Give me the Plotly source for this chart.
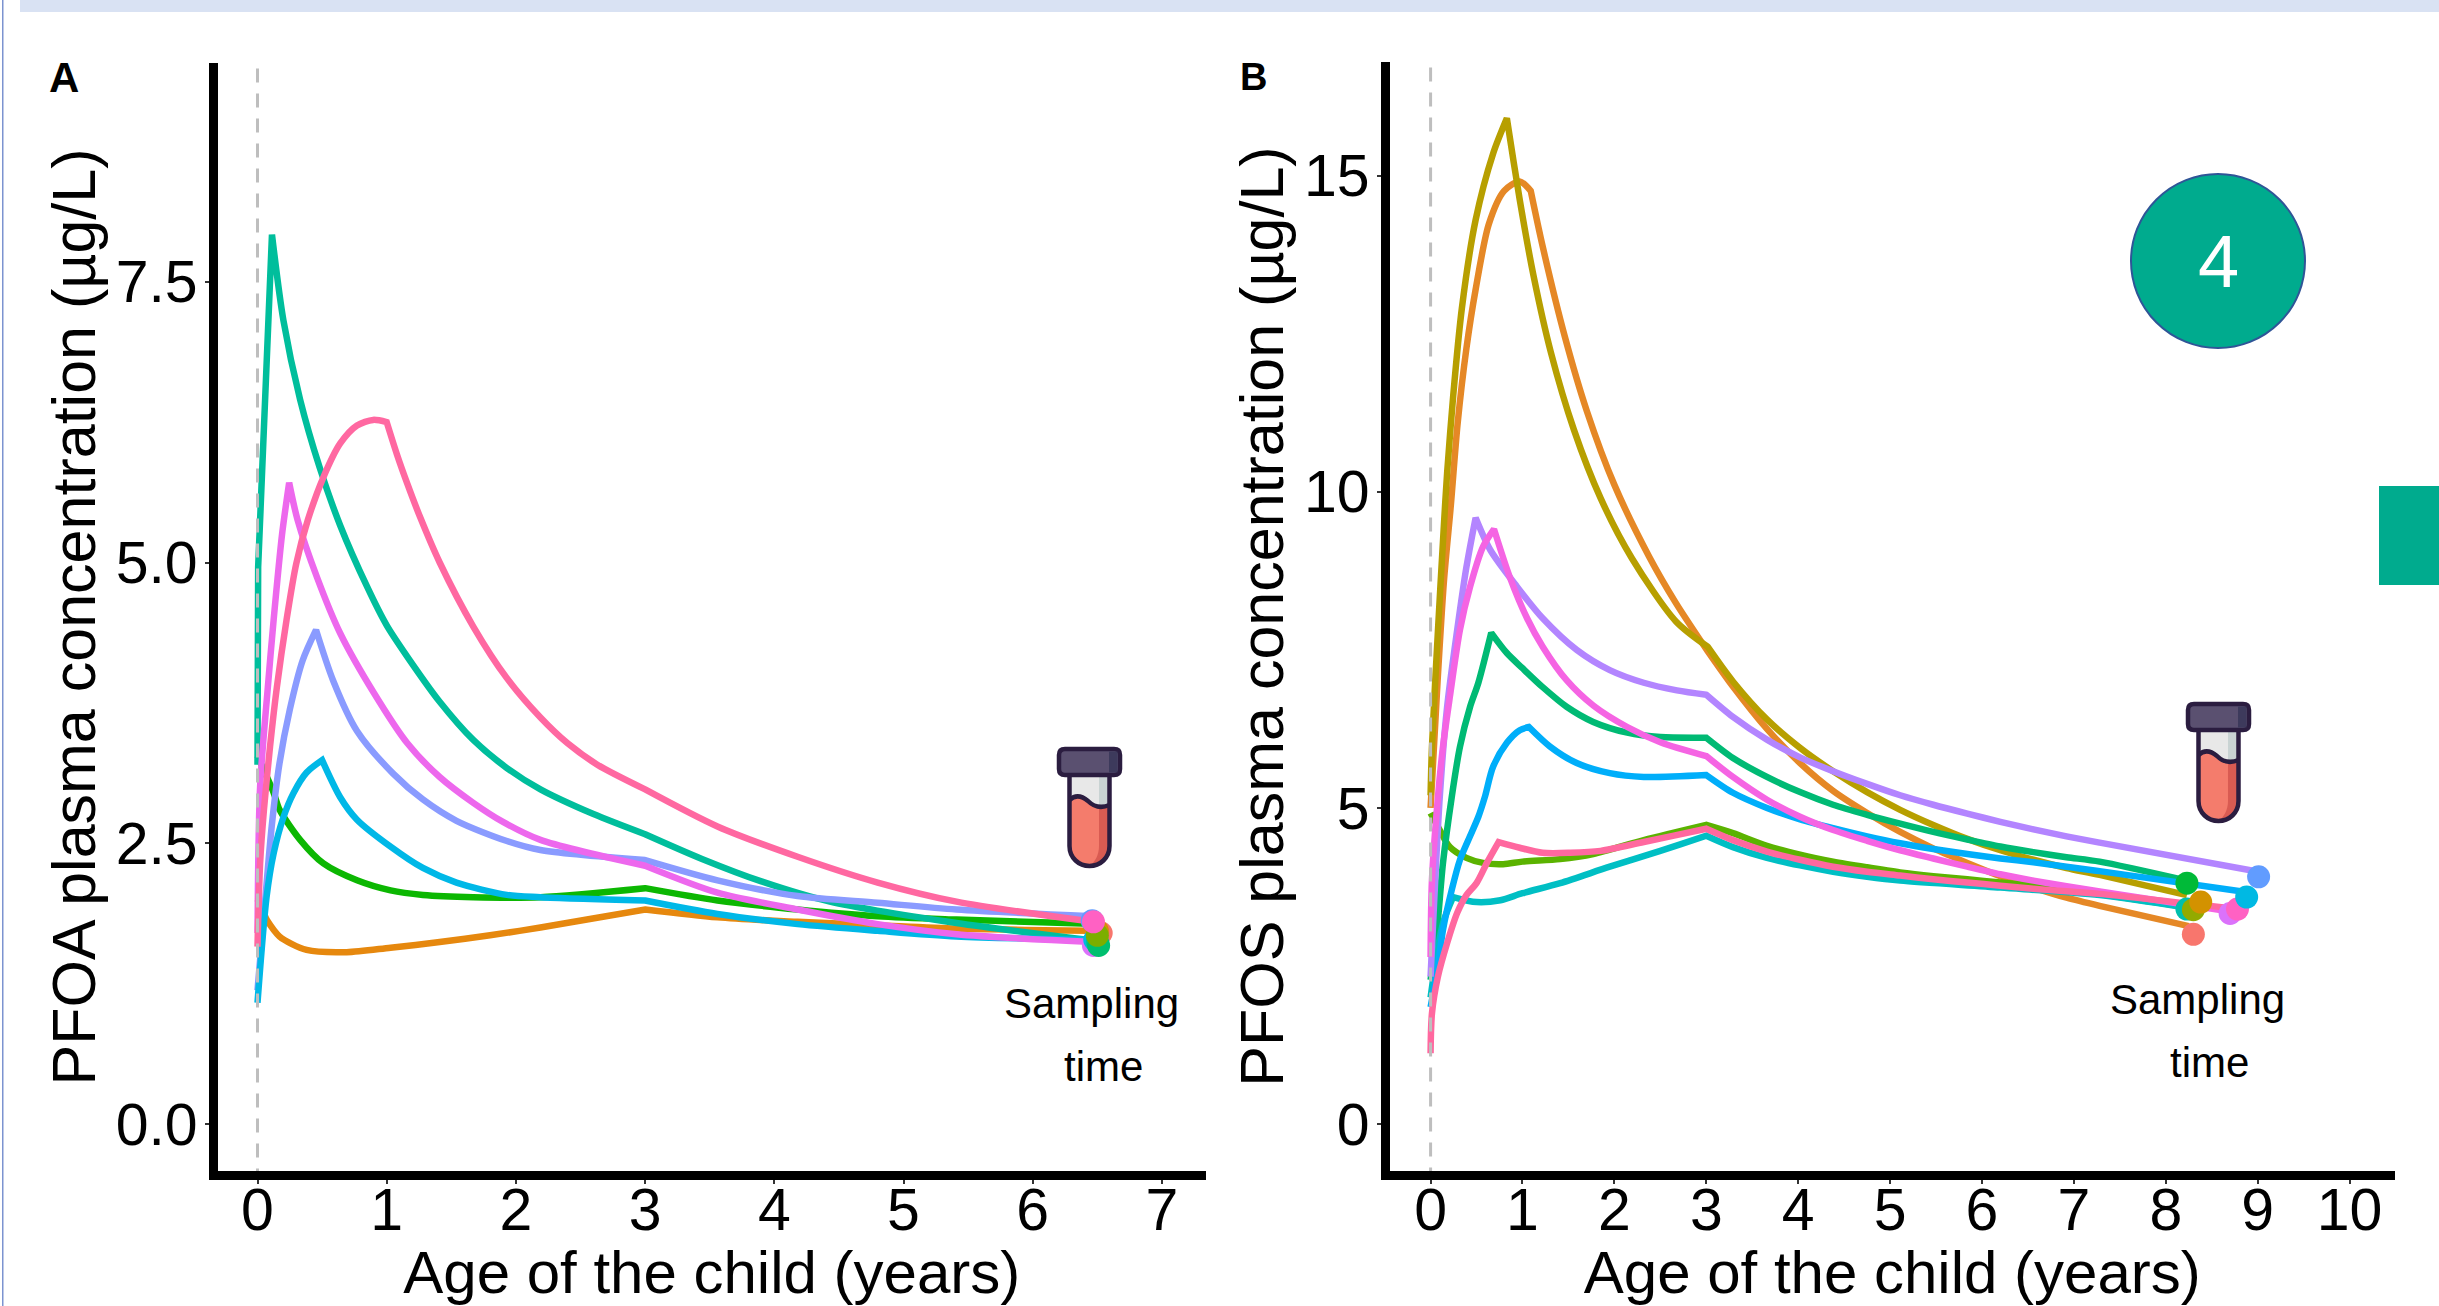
import plotly.graph_objects as go

W, H = 2439, 1306
FONT = "Liberation Sans"

# ---------- Panel A (PFOA) ----------
a_orange_x = [0, 0.07, 0.17, 0.38, 0.69, 1.03, 1.41, 1.8, 2.19, 3.0, 3.56, 4.18, 4.8, 5.41, 6.53]
a_orange_y = [2.0, 1.82, 1.67, 1.55, 1.53, 1.57, 1.62, 1.68, 1.75, 1.91, 1.84, 1.80, 1.77, 1.74, 1.72]
a_green_x = [0, 0.125, 0.17, 0.33, 0.51, 0.77, 1.03, 1.28, 1.67, 2.19, 3.0, 3.56, 4.18, 4.8, 5.41, 6.51]
a_green_y = [3.28, 2.95, 2.8, 2.53, 2.32, 2.17, 2.08, 2.04, 2.02, 2.02, 2.10, 1.99, 1.91, 1.85, 1.82, 1.78]
a_teal_x = [0, 0.005, 0.112, 0.2, 0.33, 0.48, 0.64, 0.85, 1.0, 1.16, 1.41, 1.67, 1.93, 2.19, 2.6, 3.0, 3.44, 3.9, 4.43, 5.41, 6.5]
a_teal_y = [3.2, 4.96, 7.92, 7.16, 6.45, 5.85, 5.33, 4.78, 4.44, 4.16, 3.76, 3.42, 3.17, 2.98, 2.76, 2.58, 2.36, 2.16, 1.98, 1.79, 1.63]
a_cyan_x = [0, 0.07, 0.125, 0.2, 0.28, 0.38, 0.5, 0.64, 0.77, 1.03, 1.28, 1.54, 1.93, 2.19, 3.0, 3.56, 4.18, 4.8, 5.41, 6.48]
a_cyan_y = [1.08, 2.02, 2.41, 2.73, 2.95, 3.13, 3.24, 2.91, 2.71, 2.47, 2.28, 2.15, 2.04, 2.02, 1.99, 1.87, 1.78, 1.72, 1.67, 1.64]
a_peri_x = [0, 0.06, 0.11, 0.17, 0.25, 0.35, 0.453, 0.585, 0.77, 1.05, 1.28, 1.54, 1.93, 2.19, 3.0, 3.56, 4.18, 4.8, 5.41, 6.46]
a_peri_y = [1.19, 2.0, 2.65, 3.21, 3.69, 4.13, 4.4, 3.95, 3.5, 3.12, 2.89, 2.7, 2.52, 2.44, 2.35, 2.17, 2.03, 1.97, 1.91, 1.85]
a_mag_x = [0, 0.02, 0.08, 0.125, 0.19, 0.245, 0.31, 0.46, 0.64, 0.9, 1.16, 1.41, 1.67, 1.9, 2.19, 3.0, 3.56, 4.18, 4.8, 5.41, 6.47]
a_mag_y = [1.7, 3.0, 3.89, 4.49, 5.25, 5.71, 5.38, 4.87, 4.37, 3.84, 3.39, 3.09, 2.86, 2.69, 2.53, 2.30, 2.06, 1.91, 1.78, 1.69, 1.62]
a_pink_x = [0, 0.02, 0.05, 0.097, 0.15, 0.225, 0.3, 0.39, 0.51, 0.64, 0.77, 0.895, 1.0, 1.08, 1.16, 1.26, 1.41, 1.67, 1.93, 2.19, 2.4, 2.63, 3.0, 3.56, 4.18, 4.8, 5.41, 6.47]
a_pink_y = [1.58, 2.32, 2.8, 3.36, 3.89, 4.49, 4.99, 5.38, 5.76, 6.06, 6.22, 6.27, 6.25, 5.96, 5.70, 5.40, 5.0, 4.43, 3.97, 3.62, 3.39, 3.2, 2.98, 2.65, 2.38, 2.15, 1.98, 1.80]
a_point_x = [6.47, 6.53, 6.48, 6.5, 6.5, 6.46, 6.51, 6.5, 6.47]
a_point_y = [1.59, 1.70, 1.64, 1.62, 1.72, 1.81, 1.59, 1.68, 1.80]

# ---------- Panel B (PFOS) ----------
b_orange_x = [0, 0.076, 0.146, 0.22, 0.295, 0.39, 0.49, 0.635, 0.8, 0.97, 1.09, 1.22, 1.46, 1.7, 2.0, 2.38, 2.67, 3.015, 3.29, 3.66, 4.02, 4.38, 4.75, 5.11, 5.47, 5.84, 6.2, 6.56, 6.92, 7.28, 8.25]
b_orange_y = [5.0, 7.0, 8.6, 9.78, 11.09, 12.27, 13.2, 14.24, 14.76, 14.91, 14.76, 13.88, 12.46, 11.28, 10.11, 8.97, 8.24, 7.48, 6.92, 6.25, 5.71, 5.27, 4.92, 4.62, 4.36, 4.13, 3.92, 3.74, 3.58, 3.45, 3.13]
b_gold_x = [0, 0.015, 0.08, 0.146, 0.18, 0.245, 0.34, 0.49, 0.68, 0.83, 0.97, 1.12, 1.31, 1.56, 1.85, 2.19, 2.67, 3.015, 3.29, 3.66, 4.02, 4.38, 4.75, 5.11, 5.47, 5.84, 6.2, 6.56, 6.92, 7.28, 8.23]
b_gold_y = [5.2, 5.97, 7.8, 9.5, 10.3, 11.5, 12.9, 14.3, 15.35, 15.91, 14.62, 13.42, 12.2, 10.98, 9.9, 8.95, 7.95, 7.55, 7.0, 6.4, 5.95, 5.58, 5.25, 4.97, 4.73, 4.51, 4.33, 4.18, 4.05, 3.94, 3.62]
b_lime_x = [0, 0.1, 0.21, 0.39, 0.57, 0.79, 1.0, 1.41, 1.77, 2.32, 3.0, 3.29, 3.66, 4.02, 4.38, 4.75, 5.11, 5.47, 5.84, 6.2, 6.56, 6.92, 8.3]
b_lime_y = [4.92, 4.65, 4.38, 4.21, 4.13, 4.11, 4.15, 4.19, 4.27, 4.49, 4.73, 4.6, 4.4, 4.26, 4.15, 4.06, 3.98, 3.92, 3.87, 3.82, 3.77, 3.71, 3.42]
b_green_x = [0, 0.07, 0.135, 0.23, 0.32, 0.43, 0.52, 0.66, 0.83, 1.0, 1.22, 1.48, 1.77, 2.14, 2.5, 3.0, 3.29, 3.66, 4.02, 4.38, 4.75, 5.11, 5.47, 5.84, 6.2, 6.56, 6.92, 7.28, 8.23]
b_green_y = [2.28, 3.07, 4.13, 5.17, 5.97, 6.6, 6.98, 7.77, 7.45, 7.21, 6.91, 6.6, 6.36, 6.19, 6.12, 6.11, 5.79, 5.49, 5.25, 5.05, 4.89, 4.75, 4.62, 4.5, 4.39, 4.3, 4.22, 4.15, 3.85]
b_teal_x = [0, 0.07, 0.14, 0.245, 0.5, 0.76, 1.0, 1.41, 1.95, 2.5, 3.0, 3.29, 3.66, 4.02, 4.38, 4.75, 5.11, 6.2, 7.28, 8.23]
b_teal_y = [2.0, 2.7, 3.2, 3.59, 3.51, 3.54, 3.65, 3.81, 4.07, 4.32, 4.56, 4.38, 4.21, 4.09, 3.99, 3.91, 3.85, 3.74, 3.62, 3.42]
b_azure_x = [0, 0.07, 0.135, 0.23, 0.32, 0.41, 0.52, 0.59, 0.68, 0.83, 0.97, 1.07, 1.3, 1.59, 1.95, 2.32, 3.0, 3.29, 3.66, 4.02, 4.38, 4.75, 5.11, 5.47, 5.84, 6.2, 6.56, 6.92, 7.28, 8.87]
b_azure_y = [1.85, 2.39, 3.07, 3.7, 4.18, 4.49, 4.86, 5.17, 5.65, 6.03, 6.23, 6.28, 5.97, 5.71, 5.55, 5.49, 5.52, 5.24, 5.0, 4.82, 4.68, 4.55, 4.44, 4.35, 4.27, 4.2, 4.14, 4.07, 4.0, 3.67]
b_purple_x = [0, 0.1, 0.18, 0.29, 0.39, 0.49, 0.65, 0.94, 1.22, 1.59, 1.95, 2.32, 2.68, 3.0, 3.29, 3.66, 4.02, 4.38, 4.75, 5.11, 5.47, 5.84, 6.2, 6.56, 6.92, 7.28, 9.01]
b_purple_y = [2.33, 5.17, 6.6, 7.82, 8.81, 9.59, 9.08, 8.5, 8.0, 7.5, 7.18, 6.98, 6.86, 6.79, 6.44, 6.08, 5.8, 5.58, 5.38, 5.2, 5.05, 4.91, 4.78, 4.66, 4.55, 4.45, 3.99]
b_mag_x = [0, 0.015, 0.08, 0.135, 0.21, 0.32, 0.43, 0.57, 0.69, 0.86, 1.05, 1.22, 1.48, 1.77, 2.14, 2.5, 3.0, 3.29, 3.66, 4.02, 4.38, 4.75, 5.11, 5.47, 5.84, 6.2, 6.56, 6.92, 7.28, 8.7]
b_mag_y = [2.64, 3.86, 5.17, 5.97, 6.76, 7.82, 8.5, 9.13, 9.41, 8.66, 8.0, 7.55, 7.02, 6.62, 6.28, 6.04, 5.82, 5.49, 5.13, 4.86, 4.65, 4.48, 4.33, 4.2, 4.07, 3.95, 3.85, 3.76, 3.68, 3.36]
b_pink_x = [0, 0.015, 0.08, 0.18, 0.29, 0.39, 0.5, 0.62, 0.74, 0.97, 1.22, 1.52, 1.85, 2.32, 3.0, 3.29, 3.66, 4.02, 4.38, 4.75, 5.11, 5.47, 5.84, 6.2, 6.56, 6.92, 7.28, 8.78]
b_pink_y = [1.12, 1.75, 2.33, 2.86, 3.34, 3.62, 3.81, 4.15, 4.46, 4.37, 4.29, 4.29, 4.32, 4.46, 4.67, 4.49, 4.31, 4.18, 4.07, 3.99, 3.93, 3.87, 3.82, 3.77, 3.72, 3.68, 3.64, 3.4]
b_point_x = [8.7, 8.78, 8.3, 8.23, 8.3, 8.38, 8.23, 9.01, 8.88]
b_point_y = [3.33, 3.4, 3.0, 3.4, 3.39, 3.51, 3.81, 3.91, 3.59]

# (x, y, colour, ages at which the curve has a sharp corner)
a_lines = [(a_orange_x, a_orange_y, "#E6880E", [0.07, 3.0]), (a_green_x, a_green_y, "#0CB702", [3.0]),
           (a_teal_x, a_teal_y, "#00BE9C", [0.005, 0.112, 3.0]), (a_peri_x, a_peri_y, "#8A9BFF", [0.453, 3.0]),
           (a_cyan_x, a_cyan_y, "#00B8E7", [0.5, 3.0]), (a_mag_x, a_mag_y, "#ED68ED", [0.245, 3.0]),
           (a_pink_x, a_pink_y, "#FF68A1", [1.0, 3.0])]
a_point_colors = ["#DB72FB", "#F8766D", "#00B9E3", "#00C19F", "#D39200", "#619CFF", "#00BF6F", "#7CAE00", "#FF61C3"]
b_lines = [(b_orange_x, b_orange_y, "#E58826", [1.09, 3.015]), (b_gold_x, b_gold_y, "#B79F00", [0.83, 3.015]),
           (b_lime_x, b_lime_y, "#5BB300", [3.0]), (b_green_x, b_green_y, "#00BA74", [0.66, 3.0]),
           (b_teal_x, b_teal_y, "#00BFC4", [0.245, 3.0]), (b_azure_x, b_azure_y, "#00AEFA", [1.07, 3.0]),
           (b_purple_x, b_purple_y, "#B385FF", [0.49, 3.0]), (b_mag_x, b_mag_y, "#F564E3", [0.69, 3.0]),
           (b_pink_x, b_pink_y, "#FF689F", [0.74, 3.0])]
b_point_colors = ["#DB72FB", "#FF61C3", "#F8766D", "#00BFAE", "#93AA00", "#D39200", "#00BA38", "#619CFF", "#00B9E3"]

LW = 6.5


def with_corners(xs, ys, corners):
    # A repeated vertex makes the library's spline turn sharply there.
    ox, oy = [], []
    for a, b in zip(xs, ys):
        ox.append(a); oy.append(b)
        if a in corners:
            ox.append(a); oy.append(b)
    return ox, oy


fig = go.Figure()


def draw(lines, pxs, pys, cols, xaxis, yaxis):
    for xs, ys, c, corners in lines:
        ox, oy = with_corners(xs, ys, corners)
        fig.add_trace(go.Scatter(x=ox, y=oy, mode="lines", xaxis=xaxis, yaxis=yaxis, showlegend=False,
                                 line=dict(color=c, width=LW, shape="spline", smoothing=0.8, simplify=False)))
    for px, py, c in zip(pxs, pys, cols):
        fig.add_trace(go.Scatter(x=[px], y=[py], mode="markers", marker=dict(color=c, size=23),
                                 xaxis=xaxis, yaxis=yaxis, showlegend=False))


draw(a_lines, a_point_x, a_point_y, a_point_colors, "x", "y")
draw(b_lines, b_point_x, b_point_y, b_point_colors, "x2", "y2")


def fx(v):
    return v / W


def fy(v):
    return 1 - v / H


def axis(dom, rng, vals, text, title, standoff, tsize, label_shift):
    return dict(domain=dom, range=rng, tickmode="array", tickvals=vals, ticktext=text, automargin=False,
                showgrid=False, zeroline=False, showline=True, linecolor="#000000", linewidth=9,
                ticks="outside", ticklen=4, tickwidth=2, tickcolor="#333333", ticklabelstandoff=label_shift,
                tickfont=dict(family=FONT, size=59, color="#000000"),
                title=dict(text=title, standoff=standoff, font=dict(family=FONT, size=tsize, color="#000000")))


xa = axis([fx(217.5), fx(1206)], [-0.3096, 7.341], list(range(8)), [str(i) for i in range(8)],
          "Age of the child (years)", 27, 60, -25)
ya = axis([fy(1171), fy(63)], [-0.4185, 9.448], [0, 2.5, 5, 7.5], ["0.0", "2.5", "5.0", "7.5"],
          "PFOA plasma concentration (µg/L)", 4, 61, -5)
xb = axis([fx(1389.5), fx(2395)], [-0.447, 10.494], list(range(11)), [str(i) for i in range(11)],
          "Age of the child (years)", 27, 60, -25)
yb = axis([fy(1171), fy(62)], [-0.744, 16.80], [0, 5, 10, 15], ["0", "5", "10", "15"],
          "PFOS plasma concentration (µg/L)", 4, 61, -5)
xa["anchor"] = "y"; ya["anchor"] = "x"; xb["anchor"] = "y2"; yb["anchor"] = "x2"

shapes = []
shapes.append(dict(type="line", xref="x", yref="y domain", x0=0, x1=0, y0=0.995, y1=0,
                   line=dict(color="#BEBEBE", width=3, dash="14px,11px")))
shapes.append(dict(type="line", xref="x2", yref="y2 domain", x0=0, x1=0, y0=0.995, y1=0,
                   line=dict(color="#BEBEBE", width=3, dash="14px,11px")))


def rect(x0, y0, x1, y1, fill, line=None, lw=0):
    shapes.append(dict(type="rect", xref="paper", yref="paper", x0=fx(x0), x1=fx(x1), y0=fy(y0), y1=fy(y1),
                       fillcolor=fill, line=dict(color=line or fill, width=lw), layer="above"))


def path(cmds, fill=None, line=None, lw=0):
    parts = []
    for c in cmds:
        letter, nums = c[0], c[1:]
        out = []
        for i in range(0, len(nums), 2):
            out.append(f"{fx(nums[i]):.6f},{fy(nums[i+1]):.6f}")
        parts.append(letter + " ".join(out))
    s = " ".join(parts)
    d = dict(type="path", xref="paper", yref="paper", path=s, layer="above",
             line=dict(color=line or "rgba(0,0,0,0)", width=lw))
    if fill:
        d["fillcolor"] = fill
    shapes.append(d)


# page furniture
rect(20, 0, W, 12, "#D9E2F3")
rect(2, 0, 3.5, H, "#7C93D0")
rect(2379, 486, W, 585, "#00AB8E")
shapes.append(dict(type="circle", xref="paper", yref="paper", x0=fx(2131), x1=fx(2305), y0=fy(348), y1=fy(174),
                   fillcolor="#00AB8E", line=dict(color="#2F5597", width=2)))


def tube(dx, dy):
    X = lambda v: v + dx
    Y = lambda v: v + dy
    L, R, M = X(1069.5), X(1109.5), X(1089.5)
    rect(L, Y(772), R, Y(812), "#E8E8E8")
    rect(X(1099), Y(772), R, Y(812), "#C9D3D3")
    bottom = [("C", R, Y(858), X(1100), Y(866), M, Y(866))]
    path([("M", L, Y(800)), ("C", X(1076), Y(794), X(1082), Y(796), X(1088), Y(801)),
          ("C", X(1093), Y(806), X(1100), Y(809), R, Y(805)), ("L", R, Y(846))] + bottom +
         [("C", X(1079), Y(866), L, Y(858), L, Y(846)), ("Z",)], fill="#F47C6C")
    path([("M", X(1099), Y(808)), ("L", R, Y(805)), ("L", R, Y(846))] + bottom +
         [("C", X(1095), Y(862), X(1099), Y(855), X(1099), Y(846)), ("Z",)], fill="#D95B52")
    path([("M", L, Y(800)), ("C", X(1076), Y(794), X(1082), Y(796), X(1088), Y(801)),
          ("C", X(1093), Y(806), X(1100), Y(809), R, Y(805))], line="#2B1D40", lw=4.5)
    path([("M", L, Y(775)), ("L", L, Y(846)), ("C", L, Y(858), X(1079), Y(866), M, Y(866)),
          ("C", X(1100), Y(866), R, Y(858), R, Y(846)), ("L", R, Y(775))], line="#2B1D40", lw=4.5)
    r = 6
    x0, x1, y0, y1 = X(1059), X(1120), Y(749), Y(775)
    path([("M", x0 + r, y0), ("L", x1 - r, y0), ("Q", x1, y0, x1, y0 + r), ("L", x1, y1 - r),
          ("Q", x1, y1, x1 - r, y1), ("L", x0 + r, y1), ("Q", x0, y1, x0, y1 - r), ("L", x0, y0 + r),
          ("Q", x0, y0, x0 + r, y0), ("Z",)], fill="#5A5070", line="#2B1D40", lw=4.5)
    rect(X(1109), Y(751.5), X(1117.5), Y(772.5), "#3D3A5C")


tube(0, 0)
tube(1129, -45)


def note(text, x, y, size, color="#000000", bold=False):
    return dict(text=f"<b>{text}</b>" if bold else text, xref="paper", yref="paper", x=fx(x), y=fy(y),
                xanchor="center", yanchor="middle", showarrow=False,
                font=dict(family=FONT, size=size, color=color))


annotations = [
    note("A", 64, 77, 42, bold=True),
    note("B", 1253, 77, 38, bold=True),
    note("Sampling", 1091, 1004, 42),
    note("time", 1103, 1066, 42),
    note("Sampling", 2197, 999, 42),
    note("time", 2209, 1062, 42),
    note("4", 2218, 261, 74, color="#FFFFFF"),
]

fig.update_layout(width=W, height=H, autosize=False, margin=dict(l=0, r=0, t=0, b=0, pad=0),
                  paper_bgcolor="#FFFFFF", plot_bgcolor="#FFFFFF", showlegend=False,
                  xaxis=xa, yaxis=ya, xaxis2=xb, yaxis2=yb, shapes=shapes, annotations=annotations)

page_fix = ("var s=document.documentElement.style,b=document.body.style;"
            "s.margin='0';s.padding='0';s.height='1306px';s.overflow='hidden';"
            "b.margin='0';b.padding='0';b.height='1306px';b.overflow='hidden';")
fig.write_html("out.html", config=dict(displayModeBar=False), post_script=page_fix)
